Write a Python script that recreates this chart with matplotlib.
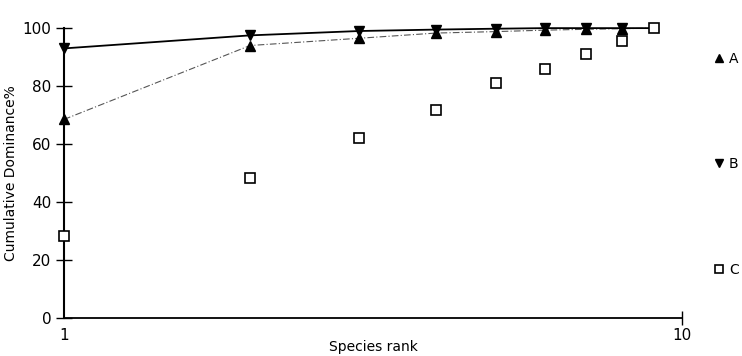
import numpy as np
import matplotlib.pyplot as plt

# dados
rank = [1, 2, 3, 4, 5, 6, 7, 8, 9]
serie_a = [68.5, 94.0, 96.5, 98.3, 98.8, 99.3, 99.6, 99.8, 100.0]
serie_b = [93.0, 97.5, 99.0, 99.5, 99.8, 100.0, 100.0, 100.0, 100.0]
serie_c = [28.3, 48.3, 62.0, 71.7, 81.2, 86.0, 90.9, 95.4, 100.0]

y_ticks = [0, 20, 40, 60, 80, 100]

plt.rcParams["font.family"] = ["DejaVu Sans"]

fig = plt.figure(figsize=(7.42, 3.56), dpi=100)
ax = fig.add_axes([0.0863, 0.107, 0.833, 0.814])

ax.plot(rank, serie_a, color="#555555", lw=0.8, ls=(0, (6, 2, 1, 2)),
        marker="^", ms=6.5, mfc="black", mec="black",
        markevery=slice(0, 8), clip_on=False, label="A", zorder=3)
ax.plot(rank, serie_b, color="black", lw=1.3, ls="-",
        marker="v", ms=6.5, mfc="black", mec="black",
        markevery=slice(0, 8), clip_on=False, label="B", zorder=4)
ax.plot(rank, serie_c, ls="none", marker="s", ms=6.5, mfc="white",
        mec="black", mew=1.2, clip_on=False, label="C", zorder=5)

ax.set_xscale("log")
ax.set_xlim(1, 10)
ax.set_ylim(0, 100)

ax.spines["top"].set_visible(False)
ax.spines["right"].set_visible(False)
ax.spines["left"].set_linewidth(1.5)
ax.spines["bottom"].set_linewidth(1.3)

ax.set_yticks(y_ticks)
ax.set_yticklabels([str(v) for v in y_ticks])
ax.tick_params(axis="y", direction="inout", length=12, width=1, labelsize=11, pad=3)

ax.set_xticks([1, 10])
ax.set_xticklabels(["1", "10"])
ax.xaxis.set_minor_locator(plt.NullLocator())
ax.tick_params(axis="x", direction="inout", length=10, width=1, labelsize=11, pad=2)
ax.xaxis.get_major_ticks()[0].tick1line.set_visible(False)

ax.set_xlabel("Species rank", fontsize=10)
ax.xaxis.set_label_coords(0.5, -0.075)
ax.set_ylabel("Cumulative Dominance%", fontsize=10, labelpad=3)

leg = fig.legend(loc="upper left", bbox_to_anchor=(0.947, 0.89),
                 frameon=False, handlelength=0.6, handletextpad=0.4,
                 labelspacing=6.6, fontsize=10, markerscale=0.85)
for h in leg.legend_handles:
    h.set_linestyle("none")

plt.savefig("out.png", dpi=100)
plt.close()
